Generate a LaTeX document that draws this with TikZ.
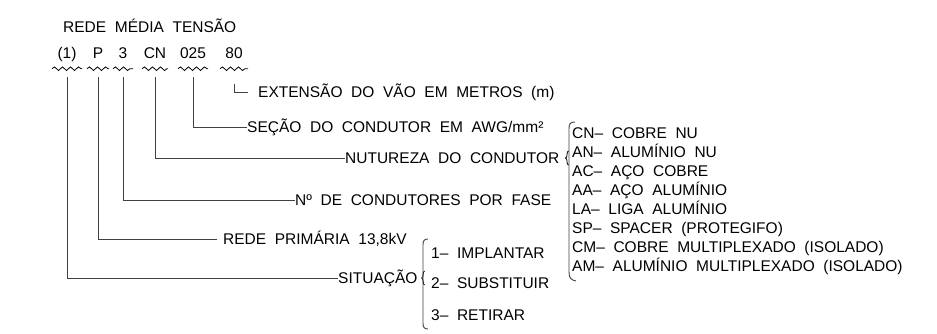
\documentclass[tikz,border=0pt]{standalone}
\usepackage{fontspec}
\setmainfont{Liberation Sans}[WordSpace=2]
\usetikzlibrary{positioning,decorations.pathmorphing,decorations.pathreplacing}

\begin{document}
\begin{tikzpicture}[x=1pt,y=-1pt,
    every node/.style={font=\fontsize{15.5}{18}\selectfont, inner sep=0pt, text height=11pt, text depth=0pt},
    lbl/.style={anchor=west},
    wavy/.style={decorate, decoration={snake, segment length=8pt, amplitude=1.8pt}, line width=0.8pt},
    lead/.style={line width=0.9pt, black!75},
    curly/.style={decorate, decoration={brace, amplitude=3pt}, line width=0.8pt}]
        \useasboundingbox (0,0) rectangle (937,334);

        \node[lbl] (title) at (63,27) {REDE MÉDIA TENSÃO};

        \node (c1) at (67,53) {(1)};
        \node (c2) at (98,53) {P};
        \node (c3) at (123,53) {3};
        \node (c4) at (155,53) {CN};
        \node (c5) at (193,53) {025};
        \node (c6) at (234,53) {80};

        % tils under the code
        \foreach \n/\w in {c1/15,c2/11,c3/10,c4/13,c5/15,c6/14}
          \draw[wavy] ([xshift=-\w pt, yshift=-10pt]\n.south) -- ([xshift=\w pt, yshift=-10pt]\n.south);

        \node[lbl] (ext) at (258,92) {EXTENSÃO DO VÃO EM METROS (m)};
        \node[lbl] (sec) at (247,127) {SEÇÃO DO CONDUTOR EM AWG/mm²};
        \node[lbl] (nat) at (345,158) {NUTUREZA DO CONDUTOR};
        \node[lbl] (num) at (295,200) {Nº DE CONDUTORES POR FASE};
        \node[lbl] (prim) at (223,239) {REDE PRIMÁRIA 13,8kV};
        \node[lbl] (sit) at (338,278) {SITUAÇÃO};

        \draw[lead] ([yshift=-18.5pt]c1.south) |- (sit.west);
        \draw[lead] ([yshift=-18.5pt]c2.south) |- ([xshift=-6pt]prim.west);
        \draw[lead] ([yshift=-18.5pt]c3.south) |- (num.west);
        \draw[lead] ([yshift=-18.5pt]c4.south) |- (nat.west);
        \draw[lead] ([yshift=-18.5pt]c5.south) |- (sec.west);
        \draw[lead] ([yshift=-25pt]c6.south) |- ([xshift=-10pt]ext.west);

        % condutor types
        \node[lbl] (n1) at (572,133) {CN-- COBRE NU};
        \node[lbl] (n2) at (572,152) {AN-- ALUMÍNIO NU};
        \node[lbl] (n3) at (572,171) {AC-- AÇO COBRE};
        \node[lbl] (n4) at (572,190) {AA-- AÇO ALUMÍNIO};
        \node[lbl] (n5) at (572,209) {LA-- LIGA ALUMÍNIO};
        \node[lbl] (n6) at (572,228) {SP-- SPACER (PROTEGIFO)};
        \node[lbl] (n7) at (572,247) {CM-- COBRE MULTIPLEXADO (ISOLADO)};
        \node[lbl] (n8) at (572,266) {AM-- ALUMÍNIO MULTIPLEXADO (ISOLADO)};
        \draw[curly] ([xshift=9pt, yshift=-7pt]nat.east) -- ([xshift=9pt, yshift=7pt]nat.east);
        \draw[lead] (575,122) .. controls (570,122) and (569,124) .. (569,129) -- (569,272) .. controls (569,278) and (571,280) .. (576,281);

        % situation
        \node[lbl] (s1) at (431,253) {1-- IMPLANTAR};
        \node[lbl] (s2) at (431,283) {2-- SUBSTITUIR};
        \node[lbl] (s3) at (431,315) {3-- RETIRAR};
        \draw[curly] ([xshift=7pt, yshift=-7pt]sit.east) -- ([xshift=7pt, yshift=7pt]sit.east);
        \draw[lead] (428,239) .. controls (424,239) and (423,241) .. (423,245) -- (423,323) .. controls (423,327) and (424,329) .. (428,329);
\end{tikzpicture}
\end{document}
